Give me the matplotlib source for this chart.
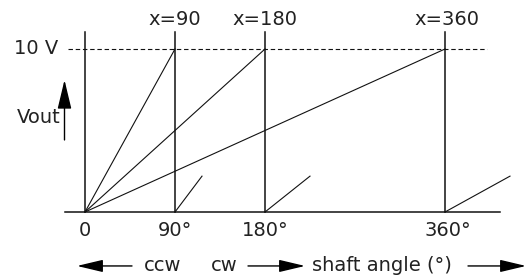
import matplotlib
matplotlib.use("Agg")
import matplotlib.pyplot as plt

# ---- data ----
reset_angles = [90, 180, 360]          # x values where output resets
vmax = 10                               # full-scale output (V)
after_reset_end_x = [117, 225, 425]     # end of short ramp after reset (deg)
after_reset_end_v = [2.2, 2.2, 2.2]     # level of short ramp end (V)
tick_positions = [0, 90, 180, 363]
tick_labels = ["0", "90°", "180°", "360°"]
top_labels = ["x=90", "x=180", "x=360"]
top_label_x = [90, 180, 362]

fig = plt.figure(figsize=(5.27, 2.78), dpi=100)
ax = fig.add_axes([0, 0, 1, 1])
ax.set_xlim(-85, 442)
ax.set_ylim(-66 / 16.3, 212 / 16.3)
ax.axis("off")

lc = "#111111"
tc = "#222222"
fs = 14

# baseline
ax.plot([-20, 415], [0, 0], color=lc, lw=1.1)
# dashed full-scale line
ax.plot([-17, 402], [vmax, vmax], color=lc, lw=0.8, linestyle=(0, (4, 2.5)))
# vertical lines
vtop = 11.04
for xv in [0] + reset_angles:
    ax.plot([xv, xv], [0, vtop], color=lc, lw=1.1)
# ramps from origin
for xr in reset_angles:
    ax.plot([0, xr], [0, vmax], color=lc, lw=0.8)
# short ramps after reset
for xr, xe, ve in zip(reset_angles, after_reset_end_x, after_reset_end_v):
    ax.plot([xr, xe], [0, ve], color=lc, lw=0.8)

# texts
ax.text(-27, vmax, "10 V", ha="right", va="center", fontsize=fs, color=tc)
ax.text(-24, 5.77, "Vout", ha="right", va="center", fontsize=fs, color=tc)
for lab, xl in zip(top_labels, top_label_x):
    ax.text(xl, 11.78, lab, ha="center", va="center", fontsize=fs, color=tc)
for lab, xl in zip(tick_labels, tick_positions):
    ax.text(xl, -1.15, lab, ha="center", va="center", fontsize=fs, color=tc)

yb = -3.31
ax.text(78, yb, "ccw", ha="center", va="center", fontsize=fs, color=tc)
ax.text(139, yb, "cw", ha="center", va="center", fontsize=fs, color=tc)
ax.text(227, yb, "shaft angle (°)", ha="left", va="center", fontsize=fs, color=tc)

def arrow(tail, tip, hl, hw):
    ax.annotate("", xy=tip, xytext=tail,
                arrowprops=dict(arrowstyle=f"-|>,head_length={hl},head_width={hw}",
                                lw=1.0, color="black", shrinkA=0, shrinkB=0,
                                mutation_scale=1))

arrow((47, yb), (-8, yb), 16, 3.8)
arrow((163, yb), (220, yb), 16, 3.8)
arrow((383, yb), (441, yb), 16, 3.8)
arrow((-20.5, 4.42), (-20.5, 8.1), 18, 4.3)

fig.savefig("out.png", dpi=100)
